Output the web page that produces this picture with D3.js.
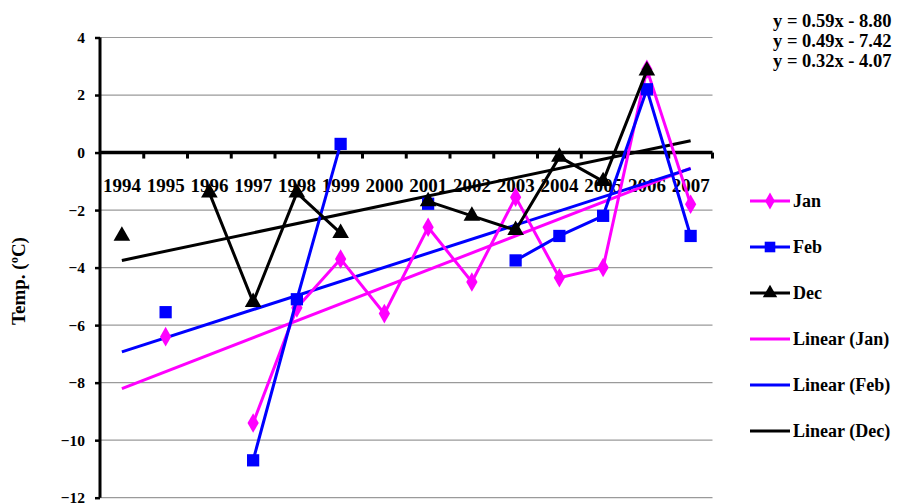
<!DOCTYPE html>
<html>
<head>
<meta charset="utf-8">
<script src="https://cdn.jsdelivr.net/npm/d3@7/dist/d3.min.js"></script>
<style>
  html, body { margin: 0; padding: 0; background: #ffffff; }
  svg { display: block; }
  .serif, .serif text { font-family: "Liberation Serif", Tinos, "Times New Roman", Times, "DejaVu Serif", serif; font-weight: bold; }
</style>
</head>
<body>
<svg id="chart" class="serif" width="903" height="504"></svg>
<script>
// Monthly mean temperatures (ºC) by year; null = no record
const years = ["1994","1995","1996","1997","1998","1999","2000","2001","2002","2003","2004","2005","2006","2007"];
const janTemps = [null, -6.4, null, -9.4, -5.4, -3.7, -5.6, -2.6, -4.5, -1.55, -4.35, -4.0, 2.9, -1.8];
const febTemps = [null, -5.55, null, -10.7, -5.1, 0.3, null, -1.78, null, -3.75, -2.9, -2.2, 2.2, -2.9];
const decTemps = [-2.9, null, -1.4, -5.2, -1.4, -2.8, null, -1.7, -2.2, -2.7, -0.15, -1.0, 2.85, null];

// Linear trend coefficients (y = slope * x + intercept, x = 1..14)
const trendSlopes = [0.59, 0.49, 0.32];
const trendIntercepts = [-8.80, -7.42, -4.07];
const equationLabels = ["y = 0.59x - 8.80", "y = 0.49x - 7.42", "y = 0.32x - 4.07"];

const yTicks = [-12, -10, -8, -6, -4, -2, 0, 2, 4];
const seriesNames = ["Jan", "Feb", "Dec"];
const trendNames = ["Linear (Jan)", "Linear (Feb)", "Linear (Dec)"];
const colors = ["#ff00ff", "#0000ff", "#000000"];
const markerShapes = [d3.symbolDiamond, d3.symbolSquare, d3.symbolTriangle];
const markerSizes = [110, 150, 120];

const FONT = '"Liberation Serif", Tinos, "Times New Roman", Times, "DejaVu Serif", serif';

const svg = d3.select("#chart");
const plot = { left: 100, right: 712.5, top: 37.5, bottom: 497.7 };

const x = d3.scaleBand().domain(years).range([plot.left, plot.right]).padding(0);
const y = d3.scaleLinear().domain([-12, 4]).range([plot.bottom, plot.top]);
const cx = yr => x(yr) + x.bandwidth() / 2;

// Horizontal gridlines
svg.append("g")
  .selectAll("line")
  .data(yTicks.filter(v => v !== 0))
  .join("line")
  .attr("x1", plot.left).attr("x2", plot.right)
  .attr("y1", d => y(d)).attr("y2", d => y(d))
  .attr("stroke", "#9a9a9a").attr("stroke-width", 1.2);

// Y axis
const yAxis = svg.append("g")
  .attr("transform", `translate(${plot.left},0)`)
  .call(d3.axisLeft(y).tickValues(yTicks).tickSize(5).tickPadding(10).tickFormat(d3.format("d")))
  .attr("font-family", FONT);
yAxis.select(".domain").attr("stroke", "#000").attr("stroke-width", 3)
  .attr("d", `M0,${plot.top}V${plot.bottom}`);
yAxis.selectAll(".tick line").attr("stroke", "#000").attr("stroke-width", 2.5);
yAxis.selectAll(".tick text")
  .attr("font-family", FONT).attr("font-weight", "bold")
  .attr("font-size", 15.5).attr("fill", "#000");

// X axis along y = 0
const xAxis = svg.append("g")
  .attr("transform", `translate(0,${y(0)})`)
  .call(d3.axisBottom(x).tickSize(0).tickPadding(26))
  .attr("font-family", FONT);
xAxis.select(".domain").attr("stroke", "#000").attr("stroke-width", 3.5)
  .attr("d", `M${plot.left},0H${plot.right}`);
xAxis.selectAll(".tick text")
  .attr("font-family", FONT).attr("font-weight", "bold")
  .attr("font-size", 19).attr("fill", "#000");
// Category boundary tick marks
xAxis.append("g")
  .selectAll("line")
  .data(years.slice(1).concat(["end"]))
  .join("line")
  .attr("x1", d => d === "end" ? plot.right : x(d))
  .attr("x2", d => d === "end" ? plot.right : x(d))
  .attr("y1", 0).attr("y2", 6)
  .attr("stroke", "#000").attr("stroke-width", 3);

// Y axis title
svg.append("text")
  .attr("transform", "translate(25,281) rotate(-90)")
  .attr("text-anchor", "middle")
  .attr("font-family", FONT).attr("font-weight", "bold")
  .attr("font-size", 19)
  .text("Temp. (ºC)");

// Trend lines
trendSlopes.forEach((m, k) => {
  const b = trendIntercepts[k];
  const first = 1, last = years.length;
  svg.append("line")
    .attr("x1", cx(years[0])).attr("y1", y(m * first + b))
    .attr("x2", cx(years[last - 1])).attr("y2", y(m * last + b))
    .attr("stroke", colors[k]).attr("stroke-width", 3);
});

// Series lines and markers
const allSeries = [janTemps, febTemps, decTemps];
const line = d3.line()
  .defined(d => d.v !== null)
  .x(d => cx(d.yr))
  .y(d => y(d.v));

allSeries.forEach((vals, k) => {
  const pts = vals.map((v, i) => ({ yr: years[i], v }));
  svg.append("path")
    .datum(pts)
    .attr("d", line)
    .attr("fill", "none")
    .attr("stroke", colors[k])
    .attr("stroke-width", 3)
    .attr("stroke-linejoin", "miter");
  svg.append("g")
    .selectAll("path")
    .data(pts.filter(d => d.v !== null))
    .join("path")
    .attr("transform", d => `translate(${cx(d.yr)},${y(d.v)})`)
    .attr("d", d3.symbol().type(markerShapes[k]).size(markerSizes[k]))
    .attr("fill", colors[k]);
});

// Trend equations
svg.append("g")
  .selectAll("text")
  .data(equationLabels)
  .join("text")
  .attr("x", 773)
  .attr("y", (d, i) => 27 + i * 20)
  .attr("font-family", FONT).attr("font-weight", "bold")
  .attr("font-size", 18.5)
  .text(d => d);

// Legend
const legendItems = seriesNames.map((n, k) => ({ name: n, color: colors[k], marker: k }))
  .concat(trendNames.map((n, k) => ({ name: n, color: colors[k], marker: null })));
const legend = svg.append("g");
legendItems.forEach((it, i) => {
  const ly = 201 + i * 46;
  const g = legend.append("g").attr("transform", `translate(750,${ly})`);
  g.append("line").attr("x1", 0).attr("x2", 40).attr("y1", 0).attr("y2", 0)
    .attr("stroke", it.color).attr("stroke-width", 3);
  if (it.marker !== null) {
    g.append("path")
      .attr("transform", "translate(20,0)")
      .attr("d", d3.symbol().type(markerShapes[it.marker]).size(markerSizes[it.marker] * 0.75))
      .attr("fill", it.color);
  }
  g.append("text").attr("x", 43).attr("y", 6)
    .attr("font-family", FONT).attr("font-weight", "bold")
    .attr("font-size", 18)
    .text(it.name);
});
</script>
</body>
</html>
